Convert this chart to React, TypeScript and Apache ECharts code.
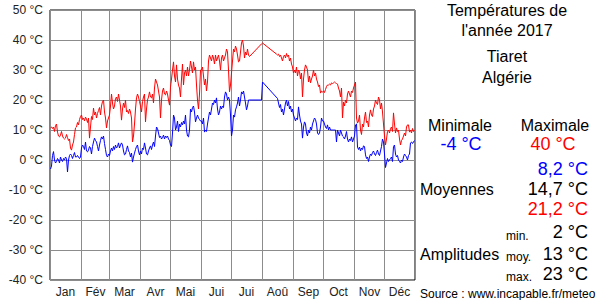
import React, { useEffect, useRef } from "react";
import * as echarts from "echarts";

const monthNames = ["Jan", "Fév", "Mar", "Avr", "Mai", "Jui", "Jui", "Aoû", "Sep", "Oct", "Nov", "Déc"];
const monthLengths = [31, 28, 31, 30, 31, 30, 31, 31, 30, 31, 30, 31];
const yTicks = [-40, -30, -20, -10, 0, 10, 20, 30, 40, 50];

const maxJan = [10.7, 11, 10.5, 11, 9.5, 11.5, 12, 9.3, 8, 7.7, 8.3, 9.5, 8, 7.3, 7, 7.3, 8.5, 7.5, 6.5, 7, 4, 3.3, 5, 6, 8.5, 10.7, 11, 12.5, 11.7, 13.5, 14.5];
const maxFeb = [15, 13.5, 14, 13, 14.3, 13.7, 12.5, 14, 7.3, 11, 14.5, 13.5, 17.3, 15, 16, 14, 15.5, 16.5, 17.5, 15, 18, 19.5, 20, 16, 14, 10.7, 13, 14];
const maxMar = [15, 18, 22, 19, 17, 18, 20.5, 21, 19.5, 22, 20, 18, 13.3, 17, 19, 17.5, 20, 16, 16.5, 15.5, 17, 16, 14, 6, 8, 12, 17, 20.7, 22, 21, 19.5];
const maxApr = [18, 16, 19.5, 21, 22, 12.7, 17, 20, 21, 22.7, 21, 20.7, 22, 19, 24, 27, 26, 25, 23, 21, 14, 20, 23, 24, 22, 21.7, 23, 22, 20, 18.3];
const maxMay = [24.3, 27, 30, 32.7, 28, 26, 31.7, 27, 25, 24, 21, 27, 32, 25, 29, 30, 28, 31, 28, 30, 33, 31, 29, 32.7, 30, 31, 25, 20, 17, 22, 30];
const maxJun = [30, 31, 28, 25, 27, 23, 26, 33, 35, 34, 33, 35, 34, 32, 35, 33, 34, 35, 33, 30, 34, 35, 33, 34, 35, 37, 36, 30, 22.7, 25];
const maxJul = [29, 33, 37, 36, 38, 37, 35, 32.7, 33, 36, 39, 40, 38, 34, 36, 35, 37, 35, 34.5, null, null, null, null, null, null, null, null, null, null, null, 38.7];
const maxAug = [39, null, null, null, null, null, null, null, null, null, null, null, null, null, 35.3, 35, 35.3, 34.5, 35, 34, 33, 34.5, 35, 34, 35.5, 34.5, 35, 33, 34, 32, 31];
const maxSep = [29, 30, 29, 31, 28, 30, 29.5, 27, 29, 21, 27, 30, 31.7, 31, 30, 26, 28, 25.7, 27, 28, 30, 28, 29, 27, 26, 24.5, 25, 22.3, 23, 22.7];
const maxOct = [23, 22.5, 23.5, 24.5, 25, 25, 25.3, 25, 25.7, 25.5, 25.7, 26, 25.7, 25.5, 25.3, 24, 23, 21, 24, 14, 19.3, 18, 20, 19, 22, 23, 22, 21, 23, 22.5, 24];
const maxNov = [25, 26, 14, 12.3, 13, 15, 10, 8.5, 12, 11, 14, 16, 12.5, 13, 11, 15, 16.7, 15, 14.5, 17, 18, 20, 19, 18.5, 21, 20, 17, 19, 16, 12];
const maxDec = [8, 5, 7, 9.5, 10, 9, 10.5, 11, 9.5, 15.7, 12, 9, 10.7, 9.5, 10, 7, 5, 6.5, 7, 8, 9, 8, 11, 11.7, 11.7, 9.3, 10, 9, 10.5, 9.5, 10];

const minJan = [-3, -2, 1.5, 2.8, 0, -1, -0.5, 0.5, 0, -1, 1, 0, -0.5, 0.5, 0, 1, 0.5, -4, 0, 1.5, 2, 1.5, 0.5, 1.5, 2.5, 1, 1, 1.5, 1, 0.5, 1];
const minFeb = [4, 5, 4.5, 3.5, 6, 3, 2.7, 3.3, 4.5, 4, 2, 4.5, 6, 7.3, 6.5, 6, 4.5, 3, 5, 6.5, 7.7, 7, 8, 5.5, 3.5, 1.5, 1, 2];
const minMar = [1.5, 3, 4, 3, 4.5, 3.5, 5, 4, 4.5, 5.7, 4, 5, 5.7, 5, 3, 1.7, 2, 3.5, 4.7, 3, 2.5, 1, 2.3, -0.7, 1, 2.3, 3.5, 4.5, 5, 3, 1.7];
const minApr = [3, 2, 4, 3.5, 5.7, 4, 2, 1.7, 3, 4, 4.7, 3.5, 5, 6, 4.5, 8, 11, 10.5, 9, 7.5, 8, 7, 7.5, 8.3, 7, 8, 7.5, 8, 7, 6.5];
const minMay = [5, 4.5, 9, 15, 14, 10, 11, 13, 9.5, 12, 11, 12.5, 11.7, 13, 12, 15, 10, 8, 7.7, 10, 17, 16, 17.5, 18, 16, 12.7, 14, 15, 14, 13.5, 13];
const minJun = [13, 12, 14, 9.3, 10, 9.5, 12, 14, 16, 15, 17, 19, 18.5, 20, 19, 20.7, 17, 15, 16, 18, 17, 18, 17.5, 21, 22.7, 22, 20, 21, 20, 15];
const minJul = [8, 10, 15, 14.3, 16.7, 17.7, 19, 21, 18, 20, 22.7, 22, 23, 21, 19, 16.7, 18, 20, 20, null, null, null, null, null, null, null, null, null, null, null, 20];
const minAug = [26, null, null, null, null, null, null, null, null, null, null, null, null, null, null, 20.5, 19, 17.5, 18.5, 16, 17, 15, 17, 19, 20, 18, 19.5, 17, 18, 16, 17];
const minSep = [15, 14, 13, 14, 13.5, 17.7, 15, 13, 12, 7.3, 11, 12.7, 12, 9, 8, 10, 9, 11, 10, 12, 13, 14, 13.5, 12, 9, 8.5, 9, 11, 14, 13];
const minOct = [13, 12, 11, 10.5, 11.7, 10, 11, 10, 10, 10, 10, 10, 10, 6, 10, 9, 8, 10, 9, 8, 7.7, 7, 8, 9.5, 7, 6, 7, 6.5, 7.7, 6, 7];
const minNov = [8, 11.7, 12, 4.3, 3.5, 4.3, 3, 4, 3.5, 4.7, 4.5, 1.7, 0.5, 1, -0.5, 1, 2, 1.5, 2.5, 3, 2, 1.5, 2.5, 3.3, 2, 1.5, 3, 4.5, 7, 6];
const minDec = [2, -2.5, -1, 0.5, -0.5, 0, 0.5, 1, -0.5, 4.5, 5, 2, 1, 1.5, 0, -0.5, -1, 0, -0.5, 1, 2, 1.5, 1, 0, 1.5, 2, 5.7, 6, 5.5, 6, 6.5];

const tmax = [...maxJan, ...maxFeb, ...maxMar, ...maxApr, ...maxMay, ...maxJun, ...maxJul, ...maxAug, ...maxSep, ...maxOct, ...maxNov, ...maxDec];
const tmin = [...minJan, ...minFeb, ...minMar, ...minApr, ...minMay, ...minJun, ...minJul, ...minAug, ...minSep, ...minOct, ...minNov, ...minDec];

const FONT = '"Liberation Sans", Arial, Helvetica, sans-serif';

export default function App() {
  const ref = useRef<HTMLDivElement>(null);

  useEffect(() => {
    document.body.style.margin = "0";
    if (!ref.current) return;
    const chart = echarts.init(ref.current, null, { renderer: "svg" });

    const monthStarts: number[] = [];
    const monthMids: Record<number, string> = {};
    let acc = 0;
    monthLengths.forEach((len, i) => {
      monthStarts.push(acc);
      monthMids[acc + Math.floor(len / 2)] = monthNames[i];
      acc += len;
    });
    const days = tmax.map((_, i) => String(i));

    const txt = (text: string, x: number, y: number, size: number, color: string, align: string) => ({
      type: "text",
      x,
      y,
      silent: true,
      style: {
        text,
        fill: color,
        font: `${size}px ${FONT}`,
        textAlign: align,
        textVerticalAlign: "middle",
      },
    });

    chart.setOption({
      animation: false,
      backgroundColor: "#fff",
      grid: {
        left: 50,
        top: 10,
        width: 365,
        height: 270,
        show: true,
        borderColor: "#000",
        borderWidth: 1,
        backgroundColor: "transparent",
      },
      xAxis: {
        type: "category",
        data: days,
        boundaryGap: true,
        axisLine: { show: false },
        axisTick: { show: false },
        splitLine: {
          show: true,
          interval: (index: number) => monthStarts.includes(index),
          lineStyle: { color: "#8c8c8c", width: 1 },
        },
        axisLabel: {
          interval: (index: number) => monthMids[index] !== undefined,
          formatter: (_v: string, index: number) => monthMids[index] ?? "",
          color: "#222",
          fontSize: 12,
          fontFamily: '"Liberation Sans Narrow", "Liberation Sans", Arial, sans-serif',
          margin: 6,
        },
      },
      yAxis: {
        type: "value",
        min: yTicks[0],
        max: yTicks[yTicks.length - 1],
        interval: 10,
        axisLine: { show: false },
        axisTick: { show: false },
        splitLine: { show: true, lineStyle: { color: "#8c8c8c", width: 1 } },
        axisLabel: {
          formatter: (v: number) => `${v} °C`,
          color: "#222",
          fontSize: 12,
          fontFamily: FONT,
          margin: 7,
        },
      },
      series: [
        {
          type: "line",
          data: tmax,
          connectNulls: true,
          symbol: "none",
          lineStyle: { color: "#ff0000", width: 1 },
          itemStyle: { color: "#ff0000" },
          z: 3,
        },
        {
          type: "line",
          data: tmin,
          connectNulls: true,
          symbol: "none",
          lineStyle: { color: "#0000ff", width: 1 },
          itemStyle: { color: "#0000ff" },
          z: 3,
        },
      ],
      graphic: [
        txt("Températures de", 507, 10, 16, "#000", "center"),
        txt("l'année 2017", 507, 30, 16, "#000", "center"),
        txt("Tiaret", 507, 56, 16, "#000", "center"),
        txt("Algérie", 507, 77, 16, "#000", "center"),
        txt("Minimale", 460, 125, 16, "#000", "center"),
        txt("Maximale", 555, 125, 16, "#000", "center"),
        txt("-4 °C", 461, 144, 18, "#0000ff", "center"),
        txt("40 °C", 553, 144, 18, "#ff0000", "center"),
        txt("8,2 °C", 588, 169, 18, "#0000ff", "right"),
        txt("Moyennes", 420, 189, 16, "#000", "left"),
        txt("14,7 °C", 588, 189, 18, "#000", "right"),
        txt("21,2 °C", 588, 209, 18, "#ff0000", "right"),
        txt("min.", 506, 236, 12, "#000", "left"),
        txt("2 °C", 588, 232, 18, "#000", "right"),
        txt("Amplitudes", 420, 254, 16, "#000", "left"),
        txt("moy.", 506, 257, 12, "#000", "left"),
        txt("13 °C", 588, 254, 18, "#000", "right"),
        txt("max.", 506, 277, 12, "#000", "left"),
        txt("23 °C", 588, 274, 18, "#000", "right"),
        txt("Source : www.incapable.fr/meteo", 420, 294, 12, "#000", "left"),
      ],
    });

    return () => chart.dispose();
  }, []);

  return <div ref={ref} style={{ width: 600, height: 300 }} />;
}
